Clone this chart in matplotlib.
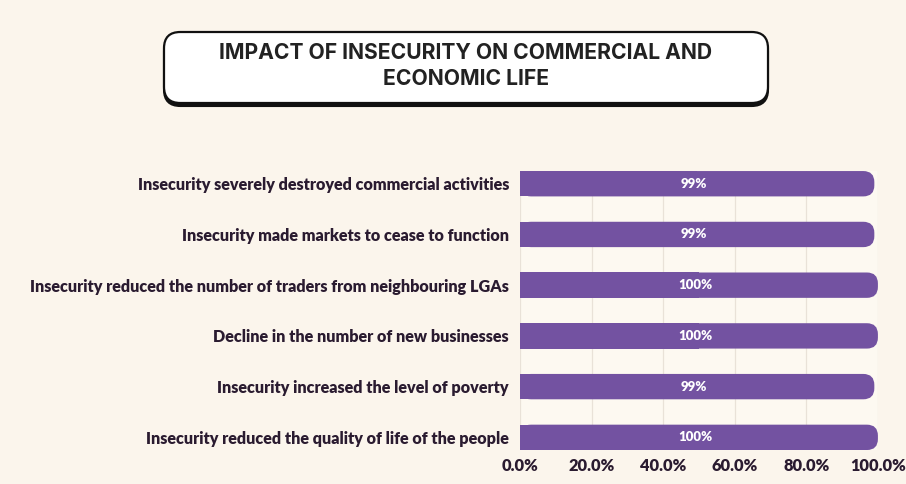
import numpy as np
import matplotlib.pyplot as plt
from matplotlib.patches import FancyBboxPatch
from matplotlib.ticker import FuncFormatter

# ---------------------------------------------------------------------------
# Data
# ---------------------------------------------------------------------------

statements = [
    "Insecurity severely destroyed commercial activities",
    "Insecurity made markets to cease to function",
    "Insecurity reduced the number of traders from neighbouring LGAs",
    "Decline in the number of new businesses",
    "Insecurity increased the level of poverty",
    "Insecurity reduced the quality of life of the people",
]
percent = [99, 99, 100, 100, 99, 100]
xticks = [0, 20, 40, 60, 80, 100]

title = "IMPACT OF INSECURITY ON COMMERCIAL AND\nECONOMIC LIFE"

BG = "#FBF5EC"
PANEL = "#FDF9F1"
BAR = "#7352A1"
INK = "#2A1B30"
GRID = "#E9E2D8"

# ---------------------------------------------------------------------------
# Figure
# ---------------------------------------------------------------------------

fig = plt.figure(figsize=(9.06, 4.84), dpi=100, facecolor=BG)
ax = fig.add_axes([0.574, 0.0702, 0.395, 0.5764])
ax.set_facecolor(PANEL)

bar_h = 0.5
ypos = np.arange(len(statements))
ax.set_xlim(0, 100)
ax.set_ylim(len(statements) - 1 + bar_h / 2, -bar_h / 2)

# x and y data units per pixel, used to keep the rounded end circular
ax_w_px = 0.395 * 906
ax_h_px = 0.5764 * 484
ux = 100 / ax_w_px
uy = (len(statements) - 1 + bar_h) / ax_h_px
r_px = 11

for y, v in zip(ypos, percent):
    # rounded body, then square off the left end
    patch = FancyBboxPatch((0, y - bar_h / 2), v, bar_h,
                           boxstyle=f"round,pad=0,rounding_size={r_px * ux}",
                           mutation_aspect=uy / ux,
                           facecolor=BAR, edgecolor="none", zorder=3)
    ax.add_patch(patch)
    ax.barh(y, v / 2, height=bar_h, left=0, color=BAR, zorder=3)
    ax.text(v / 2 - 1, y, f"{v}%", ha="center", va="center", color="white",
            fontsize=9.5, fontweight="heavy", family="Lato", zorder=4)

ax.set_yticks(ypos)
ax.set_yticklabels(statements, fontsize=11.6, fontweight="heavy",
                   family="Lato", color=INK)
ax.set_xticks(xticks)
ax.xaxis.set_major_formatter(FuncFormatter(lambda v, _: f"{v:.1f}%"))
for lab in ax.get_xticklabels():
    lab.set_fontsize(11.8)
    lab.set_fontweight("heavy")
    lab.set_family("Lato")
    lab.set_color(INK)

ax.tick_params(axis="both", length=0)
ax.tick_params(axis="y", pad=8)
ax.tick_params(axis="x", pad=6)
ax.grid(axis="x", color=GRID, lw=0.9, zorder=0)
ax.set_axisbelow(True)
for s in ax.spines.values():
    s.set_visible(False)

# ---------------------------------------------------------------------------
# Title card with drop shadow
# ---------------------------------------------------------------------------

def px(x, y):
    return x / 906, 1 - y / 484

x0, y0 = px(164, 103)
x1, y1 = px(768, 32)
shadow = FancyBboxPatch((x0, y0 - 3 / 484), x1 - x0, y1 - y0,
                        boxstyle="round,pad=0,rounding_size=0.018",
                        mutation_aspect=906 / 484,
                        transform=fig.transFigure, facecolor="#111111",
                        edgecolor="#111111", lw=1.5)
card = FancyBboxPatch((x0, y0), x1 - x0, y1 - y0,
                      boxstyle="round,pad=0,rounding_size=0.018",
                      mutation_aspect=906 / 484,
                      transform=fig.transFigure, facecolor="white",
                      edgecolor="#111111", lw=1.6)
fig.patches.extend([shadow, card])

tx, ty = px(466, 66)
fig.text(tx, ty, title, ha="center", va="center", fontsize=15.2,
         fontweight="bold", family="Inter", color="#222222",
         linespacing=1.35)

fig.savefig("out.png", dpi=100, facecolor=BG)
